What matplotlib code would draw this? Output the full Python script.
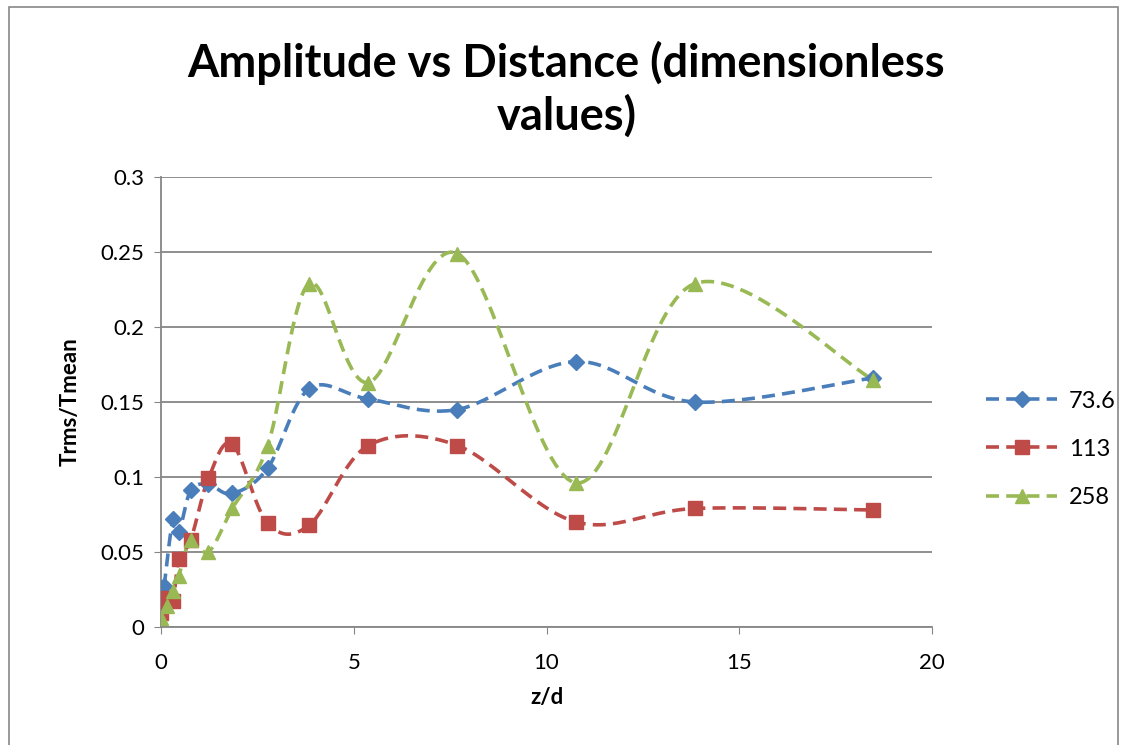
import numpy as np
import matplotlib.pyplot as plt
from matplotlib.patches import Rectangle

# z/d positions (z in mm, d = 13 mm)
x_blue = [0.08, 0.31, 0.46, 0.77, 1.23, 1.85, 2.77, 3.85, 5.38, 7.69, 10.77, 13.85, 18.46]
y_blue = [0.027, 0.072, 0.063, 0.091, 0.095, 0.089, 0.106, 0.159, 0.152, 0.145, 0.177, 0.150, 0.166]

x_red = [0.0, 0.15, 0.31, 0.46, 0.77, 1.23, 1.85, 2.77, 3.85, 5.38, 7.69, 10.77, 13.85, 18.46]
y_red = [0.009, 0.019, 0.017, 0.045, 0.058, 0.099, 0.122, 0.069, 0.068, 0.121, 0.121, 0.070, 0.079, 0.078]

x_green = [0.0, 0.15, 0.31, 0.46, 0.77, 1.23, 1.85, 2.77, 3.85, 5.38, 7.69, 10.77, 13.85, 18.46]
y_green = [0.006, 0.014, 0.024, 0.034, 0.058, 0.050, 0.079, 0.121, 0.229, 0.163, 0.249, 0.096, 0.229, 0.165]

labels = ['73.6', '113', '258']
colors = ['#4A7EBB', '#BE4B48', '#98B954']
markers = ['D', 's', '^']
msizes = [8.5, 10, 10.5]


def smooth(x, y, n=30):
    # excel-like smoothed line (cardinal spline as bezier segments)
    p = np.column_stack([x, y]).astype(float)
    p = np.vstack([p[0], p, p[-1]])
    out = []
    t = np.linspace(0, 1, n)[:, None]
    for i in range(1, len(p) - 2):
        p0, p1, p2, p3 = p[i - 1], p[i], p[i + 1], p[i + 2]
        c1 = p1 + (p2 - p0) / 6
        c2 = p2 - (p3 - p1) / 6
        seg = (1 - t) ** 3 * p1 + 3 * (1 - t) ** 2 * t * c1 + 3 * (1 - t) * t ** 2 * c2 + t ** 3 * p2
        out.append(seg)
    out = np.vstack(out)
    return out[:, 0], out[:, 1]


plt.rcParams['font.family'] = ['Lato', 'DejaVu Sans']

fig = plt.figure(figsize=(11.26, 7.45), dpi=100)
fig.patches.append(Rectangle((0.008, -0.01), 0.985, 1.0, transform=fig.transFigure,
                             fill=False, edgecolor='#888888', linewidth=1.2))
ax = fig.add_axes([0.143, 0.1584, 0.6847, 0.604])

dash = (0, (3.6, 2.0))
series = [(x_blue, y_blue), (x_red, y_red), (x_green, y_green)]
for (xs, ys), lab, c, m, ms in zip(series, labels, colors, markers, msizes):
    sx, sy = smooth(xs, ys)
    ax.plot(sx, sy, color=c, lw=2.6, ls=dash, zorder=3)
    ax.plot(xs, ys, ls='none', marker=m, color=c, ms=ms, zorder=4)
    ax.plot([], [], color=c, lw=2.6, ls=dash, marker=m, ms=ms, label=lab)

ax.set_xlim(0, 20)
ax.set_ylim(0, 0.3)
ax.set_xticks([0, 5, 10, 15, 20])
ax.set_yticks([0, 0.05, 0.1, 0.15, 0.2, 0.25, 0.3])
ax.set_xticklabels(['0', '5', '10', '15', '20'])
ax.set_yticklabels(['0', '0.05', '0.1', '0.15', '0.2', '0.25', '0.3'])
ax.grid(axis='y', color='#868686', lw=1.3)
ax.set_axisbelow(True)
for s in ['top', 'right']:
    ax.spines[s].set_visible(False)
for s in ['left', 'bottom']:
    ax.spines[s].set_color('#868686')
    ax.spines[s].set_linewidth(1.3)
ax.tick_params(length=5, color='#868686', labelsize=16)
ax.tick_params(axis='x', pad=14)
ax.tick_params(axis='y', pad=7)

ax.set_xlabel('z/d', fontsize=16, fontweight='bold', labelpad=10)
ax.set_ylabel('Trms/Tmean', fontsize=16, fontweight='bold', labelpad=14)

fig.text(0.503, 0.88, 'Amplitude vs Distance (dimensionless\nvalues)', ha='center', va='center',
         fontsize=32.5, fontweight='bold', linespacing=1.25)

ax.legend(loc='center left', bbox_to_anchor=(1.055, 0.395), frameon=False, fontsize=17,
          handlelength=3.0, labelspacing=1.15, borderpad=0, handletextpad=0.5)

fig.savefig('out.png', dpi=100)
